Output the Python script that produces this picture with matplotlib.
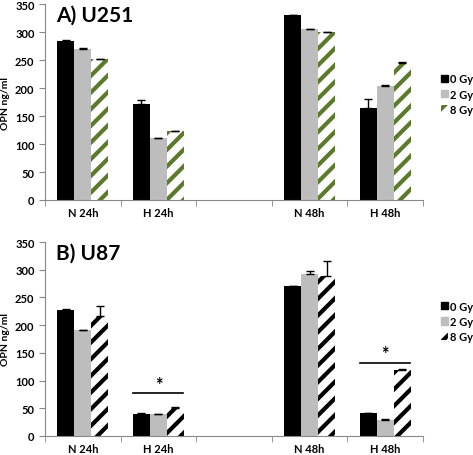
import matplotlib.pyplot as plt
import numpy as np
from matplotlib.patches import Patch

plt.rcParams['font.family'] = ['Lato', 'DejaVu Sans']
plt.rcParams['hatch.linewidth'] = 3.0

categories = ["N 24h", "H 24h", "", "N 48h", "H 48h"]
doses = ["0 Gy", "2 Gy", "8 Gy"]

# U251 (panel A) means and upper error, per dose; middle category empty
u251_vals = {
    "0 Gy": [284, 172, np.nan, 330, 165],
    "2 Gy": [270, 110, np.nan, 305, 204],
    "8 Gy": [251, 123, np.nan, 300, 245],
}
u251_err = {
    "0 Gy": [1, 7, 0, 0.5, 15],
    "2 Gy": [2, 1, 0, 1, 1],
    "8 Gy": [1, 1, 0, 0.5, 1],
}

# U87 (panel B)
u87_vals = {
    "0 Gy": [227, 40, np.nan, 270, 41],
    "2 Gy": [191, 39, np.nan, 293, 29],
    "8 Gy": [216, 51, np.nan, 289, 119],
}
u87_err = {
    "0 Gy": [3, 1, 0, 1, 1],
    "2 Gy": [1, 1, 0, 4, 1],
    "8 Gy": [18, 1, 0, 27, 1],
}

# significance bars in panel B: (category index, height)
u87_sig = [(1, 77), (4, 132)]

W, H = 473, 456
fig = plt.figure(figsize=(W / 100, H / 100), dpi=100)
ax_a = fig.add_axes([45 / W, 1 - 201 / H, 378 / W, 196 / H])
ax_b = fig.add_axes([45 / W, 1 - 437 / H, 378 / W, 194 / H])

width = 0.225
x = np.arange(len(categories))


def draw_panel(ax, vals, errs, title, hatch_color, leg_y):
    styles = {
        "0 Gy": dict(color="black"),
        "2 Gy": dict(color="#bdbdbd"),
        "8 Gy": dict(facecolor="white", edgecolor=hatch_color, hatch="//", linewidth=0),
    }
    for i, d in enumerate(doses):
        v = np.array(vals[d], dtype=float)
        e = np.array(errs[d], dtype=float)
        pos = x + (i - 1) * width
        ok = ~np.isnan(v)
        ax.bar(pos[ok], v[ok], width, **styles[d], zorder=2)
        ax.errorbar(pos[ok], v[ok], yerr=[np.zeros(ok.sum()), e[ok]], fmt="none",
                    ecolor="black", elinewidth=1, capsize=3, capthick=1, zorder=3)

    ax.set_ylim(0, 350)
    ax.set_yticks(range(0, 351, 50))
    ax.set_xlim(-0.5, len(categories) - 0.5)
    ax.set_xticks(x)
    ax.set_xticklabels(categories, fontsize=8, fontweight="bold")
    ax.set_xticks(np.arange(-0.5, len(categories), 1), minor=True)
    ax.tick_params(axis="x", which="major", length=0, pad=5)
    ax.tick_params(axis="x", which="minor", length=4, color="#888888")
    ax.tick_params(axis="y", length=4, color="#888888", labelsize=8, direction="out")
    for lbl in ax.get_yticklabels():
        lbl.set_fontweight("bold")
    ax.spines[["top", "right"]].set_visible(False)
    ax.spines[["left", "bottom"]].set_color("#888888")
    ax.set_ylabel("OPN ng/ml", fontsize=7.5, fontweight="bold", labelpad=4)
    ax.text(0.03, 0.995, title, transform=ax.transAxes, fontsize=15,
            fontweight="bold", va="top", ha="left")

    handles = [Patch(**styles[d], label=d) for d in doses]
    leg = ax.legend(handles=handles, loc="center left", bbox_to_anchor=(1.035, leg_y),
                    frameon=False, fontsize=8, handlelength=0.65, handleheight=0.65,
                    handletextpad=0.2, labelspacing=0.4, borderaxespad=0)
    for t in leg.get_texts():
        t.set_fontweight("bold")


draw_panel(ax_a, u251_vals, u251_err, "A) U251", "#5c7a2c", 0.54)
draw_panel(ax_b, u87_vals, u87_err, "B) U87", "black", 0.59)

for c, h in u87_sig:
    ax_b.plot([c - 0.33, c + 0.33], [h, h], color="black", lw=1.2, zorder=3)
    ax_b.text(c, h + 1, "*", ha="center", va="bottom", fontsize=13, fontweight="bold")

fig.savefig("out.png", dpi=100)
